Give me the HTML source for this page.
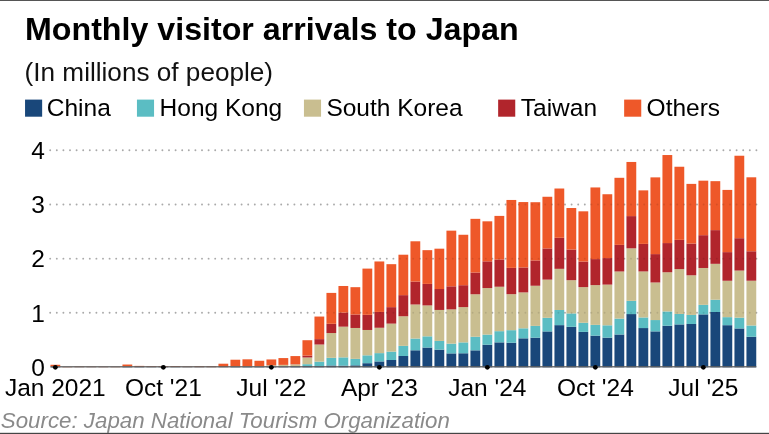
<!DOCTYPE html>
<html lang="en">
<head>
<meta charset="utf-8">
<title>Monthly visitor arrivals to Japan</title>
<style>
html,body{margin:0;padding:0;background:#fff;}
body{width:769px;height:434px;overflow:hidden;}
svg{display:block;font-family:"Liberation Sans",Arial,Helvetica,sans-serif;}
.ttl{font-size:32.2px;font-weight:bold;fill:#000;}
.sub{font-size:26.15px;fill:#111;}
.ax{font-size:24.5px;fill:#000;}
.src{font-size:22.3px;font-style:italic;fill:#8a8a8a;}
</style>
</head>
<body>
<svg width="769" height="434" viewBox="0 0 769 434">
<rect x="0" y="0" width="769" height="434" fill="#fff"/>
<rect x="0" y="0" width="769" height="1" fill="#555"/>
<rect x="0" y="432.8" width="769" height="1.2" fill="#454545"/>
<text x="25.0" y="40.4" class="ttl">Monthly visitor arrivals to Japan</text>
<text x="24.6" y="81.3" class="sub">(In millions of people)</text>
<g>
<rect x="25.05" y="99.6" width="17.1" height="17.1" fill="#19477a"/>
<text x="46.8" y="116" class="ax">China</text>
<rect x="136.95" y="99.6" width="17.1" height="17.1" fill="#5bbdc3"/>
<text x="159.6" y="116" class="ax">Hong Kong</text>
<rect x="303.95" y="99.6" width="17.1" height="17.1" fill="#c9be90"/>
<text x="326.4" y="116" class="ax">South Korea</text>
<rect x="498.15" y="99.6" width="17.1" height="17.1" fill="#b1252c"/>
<text x="520.8" y="116" class="ax">Taiwan</text>
<rect x="624.15" y="99.6" width="17.1" height="17.1" fill="#ee5829"/>
<text x="646.6" y="116" class="ax">Others</text>
</g>
<g>
<line x1="50.2" x2="757" y1="312.82" y2="312.82" stroke="#000" stroke-opacity="0.26" stroke-width="1.9" stroke-dasharray="0.01 6.59" stroke-linecap="round"/>
<line x1="50.2" x2="757" y1="258.64" y2="258.64" stroke="#000" stroke-opacity="0.26" stroke-width="1.9" stroke-dasharray="0.01 6.59" stroke-linecap="round"/>
<line x1="50.2" x2="757" y1="204.46" y2="204.46" stroke="#000" stroke-opacity="0.26" stroke-width="1.9" stroke-dasharray="0.01 6.59" stroke-linecap="round"/>
<line x1="50.2" x2="757" y1="150.28" y2="150.28" stroke="#000" stroke-opacity="0.26" stroke-width="1.9" stroke-dasharray="0.01 6.59" stroke-linecap="round"/>
</g>
<g>
<text x="45" y="375.80" text-anchor="end" class="ax">0</text>
<text x="45" y="321.62" text-anchor="end" class="ax">1</text>
<text x="45" y="267.44" text-anchor="end" class="ax">2</text>
<text x="45" y="213.26" text-anchor="end" class="ax">3</text>
<text x="45" y="159.08" text-anchor="end" class="ax">4</text>
</g>
<g>
<rect x="50.45" y="366.75" width="9.8" height="0.55" fill="#19477a"/>
<rect x="50.45" y="366.74" width="9.8" height="0.01" fill="#5bbdc3"/>
<rect x="50.45" y="366.60" width="9.8" height="0.14" fill="#c9be90"/>
<rect x="50.45" y="366.55" width="9.8" height="0.06" fill="#b1252c"/>
<rect x="50.45" y="364.77" width="9.8" height="1.77" fill="#ee5829"/>
<rect x="62.45" y="367.23" width="9.8" height="0.07" fill="#19477a"/>
<rect x="62.45" y="367.18" width="9.8" height="0.05" fill="#c9be90"/>
<rect x="62.45" y="367.17" width="9.8" height="0.01" fill="#b1252c"/>
<rect x="62.45" y="366.90" width="9.8" height="0.27" fill="#ee5829"/>
<rect x="74.45" y="367.19" width="9.8" height="0.11" fill="#19477a"/>
<rect x="74.45" y="367.10" width="9.8" height="0.09" fill="#c9be90"/>
<rect x="74.45" y="367.08" width="9.8" height="0.02" fill="#b1252c"/>
<rect x="74.45" y="366.63" width="9.8" height="0.44" fill="#ee5829"/>
<rect x="86.45" y="367.19" width="9.8" height="0.11" fill="#19477a"/>
<rect x="86.45" y="367.10" width="9.8" height="0.09" fill="#c9be90"/>
<rect x="86.45" y="367.08" width="9.8" height="0.02" fill="#b1252c"/>
<rect x="86.45" y="366.71" width="9.8" height="0.37" fill="#ee5829"/>
<rect x="98.45" y="367.20" width="9.8" height="0.10" fill="#19477a"/>
<rect x="98.45" y="367.13" width="9.8" height="0.08" fill="#c9be90"/>
<rect x="98.45" y="367.12" width="9.8" height="0.01" fill="#b1252c"/>
<rect x="98.45" y="366.76" width="9.8" height="0.36" fill="#ee5829"/>
<rect x="110.45" y="367.20" width="9.8" height="0.10" fill="#19477a"/>
<rect x="110.45" y="367.13" width="9.8" height="0.07" fill="#c9be90"/>
<rect x="110.45" y="367.12" width="9.8" height="0.01" fill="#b1252c"/>
<rect x="110.45" y="366.80" width="9.8" height="0.32" fill="#ee5829"/>
<rect x="122.45" y="366.83" width="9.8" height="0.47" fill="#19477a"/>
<rect x="122.45" y="366.81" width="9.8" height="0.02" fill="#5bbdc3"/>
<rect x="122.45" y="366.65" width="9.8" height="0.16" fill="#c9be90"/>
<rect x="122.45" y="366.59" width="9.8" height="0.05" fill="#b1252c"/>
<rect x="122.45" y="364.53" width="9.8" height="2.07" fill="#ee5829"/>
<rect x="134.45" y="367.04" width="9.8" height="0.26" fill="#19477a"/>
<rect x="134.45" y="367.03" width="9.8" height="0.01" fill="#5bbdc3"/>
<rect x="134.45" y="366.89" width="9.8" height="0.14" fill="#c9be90"/>
<rect x="134.45" y="366.86" width="9.8" height="0.03" fill="#b1252c"/>
<rect x="134.45" y="365.89" width="9.8" height="0.97" fill="#ee5829"/>
<rect x="146.45" y="367.10" width="9.8" height="0.20" fill="#19477a"/>
<rect x="146.45" y="367.09" width="9.8" height="0.01" fill="#5bbdc3"/>
<rect x="146.45" y="367.00" width="9.8" height="0.09" fill="#c9be90"/>
<rect x="146.45" y="366.99" width="9.8" height="0.02" fill="#b1252c"/>
<rect x="146.45" y="366.34" width="9.8" height="0.65" fill="#ee5829"/>
<rect x="158.45" y="367.06" width="9.8" height="0.24" fill="#19477a"/>
<rect x="158.45" y="367.06" width="9.8" height="0.01" fill="#5bbdc3"/>
<rect x="158.45" y="366.95" width="9.8" height="0.10" fill="#c9be90"/>
<rect x="158.45" y="366.93" width="9.8" height="0.02" fill="#b1252c"/>
<rect x="158.45" y="366.10" width="9.8" height="0.83" fill="#ee5829"/>
<rect x="170.45" y="367.11" width="9.8" height="0.19" fill="#19477a"/>
<rect x="170.45" y="367.10" width="9.8" height="0.01" fill="#5bbdc3"/>
<rect x="170.45" y="367.00" width="9.8" height="0.11" fill="#c9be90"/>
<rect x="170.45" y="366.97" width="9.8" height="0.02" fill="#b1252c"/>
<rect x="170.45" y="366.18" width="9.8" height="0.80" fill="#ee5829"/>
<rect x="182.45" y="367.15" width="9.8" height="0.15" fill="#19477a"/>
<rect x="182.45" y="367.14" width="9.8" height="0.01" fill="#5bbdc3"/>
<rect x="182.45" y="367.06" width="9.8" height="0.08" fill="#c9be90"/>
<rect x="182.45" y="367.04" width="9.8" height="0.02" fill="#b1252c"/>
<rect x="182.45" y="366.64" width="9.8" height="0.40" fill="#ee5829"/>
<rect x="194.45" y="367.14" width="9.8" height="0.16" fill="#19477a"/>
<rect x="194.45" y="367.14" width="9.8" height="0.01" fill="#5bbdc3"/>
<rect x="194.45" y="367.07" width="9.8" height="0.07" fill="#c9be90"/>
<rect x="194.45" y="367.04" width="9.8" height="0.02" fill="#b1252c"/>
<rect x="194.45" y="366.34" width="9.8" height="0.71" fill="#ee5829"/>
<rect x="206.45" y="367.18" width="9.8" height="0.12" fill="#19477a"/>
<rect x="206.45" y="367.18" width="9.8" height="0.01" fill="#5bbdc3"/>
<rect x="206.45" y="367.11" width="9.8" height="0.07" fill="#c9be90"/>
<rect x="206.45" y="367.09" width="9.8" height="0.02" fill="#b1252c"/>
<rect x="206.45" y="366.39" width="9.8" height="0.70" fill="#ee5829"/>
<rect x="218.45" y="367.11" width="9.8" height="0.19" fill="#19477a"/>
<rect x="218.45" y="367.10" width="9.8" height="0.01" fill="#5bbdc3"/>
<rect x="218.45" y="366.96" width="9.8" height="0.14" fill="#c9be90"/>
<rect x="218.45" y="366.93" width="9.8" height="0.03" fill="#b1252c"/>
<rect x="218.45" y="363.71" width="9.8" height="3.22" fill="#ee5829"/>
<rect x="230.45" y="366.76" width="9.8" height="0.54" fill="#19477a"/>
<rect x="230.45" y="366.75" width="9.8" height="0.02" fill="#5bbdc3"/>
<rect x="230.45" y="366.60" width="9.8" height="0.14" fill="#c9be90"/>
<rect x="230.45" y="366.58" width="9.8" height="0.03" fill="#b1252c"/>
<rect x="230.45" y="359.72" width="9.8" height="6.86" fill="#ee5829"/>
<rect x="242.45" y="366.93" width="9.8" height="0.37" fill="#19477a"/>
<rect x="242.45" y="366.91" width="9.8" height="0.02" fill="#5bbdc3"/>
<rect x="242.45" y="366.71" width="9.8" height="0.20" fill="#c9be90"/>
<rect x="242.45" y="366.68" width="9.8" height="0.04" fill="#b1252c"/>
<rect x="242.45" y="359.32" width="9.8" height="7.36" fill="#ee5829"/>
<rect x="254.45" y="366.88" width="9.8" height="0.42" fill="#19477a"/>
<rect x="254.45" y="366.85" width="9.8" height="0.02" fill="#5bbdc3"/>
<rect x="254.45" y="366.53" width="9.8" height="0.32" fill="#c9be90"/>
<rect x="254.45" y="366.49" width="9.8" height="0.04" fill="#b1252c"/>
<rect x="254.45" y="360.76" width="9.8" height="5.73" fill="#ee5829"/>
<rect x="266.45" y="366.50" width="9.8" height="0.80" fill="#19477a"/>
<rect x="266.45" y="366.44" width="9.8" height="0.05" fill="#5bbdc3"/>
<rect x="266.45" y="365.33" width="9.8" height="1.11" fill="#c9be90"/>
<rect x="266.45" y="365.25" width="9.8" height="0.08" fill="#b1252c"/>
<rect x="266.45" y="359.45" width="9.8" height="5.80" fill="#ee5829"/>
<rect x="278.45" y="366.63" width="9.8" height="0.67" fill="#19477a"/>
<rect x="278.45" y="366.53" width="9.8" height="0.10" fill="#5bbdc3"/>
<rect x="278.45" y="364.98" width="9.8" height="1.55" fill="#c9be90"/>
<rect x="278.45" y="364.86" width="9.8" height="0.12" fill="#b1252c"/>
<rect x="278.45" y="358.07" width="9.8" height="6.78" fill="#ee5829"/>
<rect x="290.45" y="366.34" width="9.8" height="0.96" fill="#19477a"/>
<rect x="290.45" y="366.19" width="9.8" height="0.15" fill="#5bbdc3"/>
<rect x="290.45" y="364.42" width="9.8" height="1.78" fill="#c9be90"/>
<rect x="290.45" y="364.25" width="9.8" height="0.16" fill="#b1252c"/>
<rect x="290.45" y="356.08" width="9.8" height="8.17" fill="#ee5829"/>
<rect x="302.45" y="366.13" width="9.8" height="1.17" fill="#19477a"/>
<rect x="302.45" y="364.17" width="9.8" height="1.97" fill="#5bbdc3"/>
<rect x="302.45" y="357.49" width="9.8" height="6.67" fill="#c9be90"/>
<rect x="302.45" y="355.59" width="9.8" height="1.90" fill="#b1252c"/>
<rect x="302.45" y="340.22" width="9.8" height="15.37" fill="#ee5829"/>
<rect x="314.45" y="366.16" width="9.8" height="1.14" fill="#19477a"/>
<rect x="314.45" y="361.65" width="9.8" height="4.51" fill="#5bbdc3"/>
<rect x="314.45" y="344.53" width="9.8" height="17.13" fill="#c9be90"/>
<rect x="314.45" y="339.12" width="9.8" height="5.40" fill="#b1252c"/>
<rect x="314.45" y="316.55" width="9.8" height="22.57" fill="#ee5829"/>
<rect x="326.45" y="365.48" width="9.8" height="1.82" fill="#19477a"/>
<rect x="326.45" y="357.81" width="9.8" height="7.67" fill="#5bbdc3"/>
<rect x="326.45" y="333.04" width="9.8" height="24.77" fill="#c9be90"/>
<rect x="326.45" y="323.80" width="9.8" height="9.24" fill="#b1252c"/>
<rect x="326.45" y="292.90" width="9.8" height="30.90" fill="#ee5829"/>
<rect x="338.45" y="365.61" width="9.8" height="1.69" fill="#19477a"/>
<rect x="338.45" y="357.36" width="9.8" height="8.25" fill="#5bbdc3"/>
<rect x="338.45" y="326.67" width="9.8" height="30.69" fill="#c9be90"/>
<rect x="338.45" y="312.59" width="9.8" height="14.08" fill="#b1252c"/>
<rect x="338.45" y="285.99" width="9.8" height="26.60" fill="#ee5829"/>
<rect x="350.45" y="365.33" width="9.8" height="1.97" fill="#19477a"/>
<rect x="350.45" y="358.85" width="9.8" height="6.48" fill="#5bbdc3"/>
<rect x="350.45" y="327.98" width="9.8" height="30.87" fill="#c9be90"/>
<rect x="350.45" y="314.48" width="9.8" height="13.49" fill="#b1252c"/>
<rect x="350.45" y="287.18" width="9.8" height="27.30" fill="#ee5829"/>
<rect x="362.45" y="363.19" width="9.8" height="4.11" fill="#19477a"/>
<rect x="362.45" y="355.32" width="9.8" height="7.87" fill="#5bbdc3"/>
<rect x="362.45" y="329.97" width="9.8" height="25.35" fill="#c9be90"/>
<rect x="362.45" y="314.83" width="9.8" height="15.14" fill="#b1252c"/>
<rect x="362.45" y="268.60" width="9.8" height="46.23" fill="#ee5829"/>
<rect x="374.45" y="361.42" width="9.8" height="5.88" fill="#19477a"/>
<rect x="374.45" y="353.12" width="9.8" height="8.30" fill="#5bbdc3"/>
<rect x="374.45" y="327.76" width="9.8" height="25.36" fill="#c9be90"/>
<rect x="374.45" y="311.93" width="9.8" height="15.83" fill="#b1252c"/>
<rect x="374.45" y="261.46" width="9.8" height="50.47" fill="#ee5829"/>
<rect x="386.45" y="360.00" width="9.8" height="7.30" fill="#19477a"/>
<rect x="386.45" y="351.62" width="9.8" height="8.38" fill="#5bbdc3"/>
<rect x="386.45" y="323.62" width="9.8" height="28.00" fill="#c9be90"/>
<rect x="386.45" y="307.15" width="9.8" height="16.47" fill="#b1252c"/>
<rect x="386.45" y="264.17" width="9.8" height="42.97" fill="#ee5829"/>
<rect x="398.45" y="355.98" width="9.8" height="11.32" fill="#19477a"/>
<rect x="398.45" y="345.86" width="9.8" height="10.12" fill="#5bbdc3"/>
<rect x="398.45" y="316.26" width="9.8" height="29.60" fill="#c9be90"/>
<rect x="398.45" y="295.14" width="9.8" height="21.12" fill="#b1252c"/>
<rect x="398.45" y="254.71" width="9.8" height="40.43" fill="#ee5829"/>
<rect x="410.45" y="350.29" width="9.8" height="17.01" fill="#19477a"/>
<rect x="410.45" y="338.54" width="9.8" height="11.75" fill="#5bbdc3"/>
<rect x="410.45" y="304.50" width="9.8" height="34.04" fill="#c9be90"/>
<rect x="410.45" y="281.57" width="9.8" height="22.93" fill="#b1252c"/>
<rect x="410.45" y="241.29" width="9.8" height="40.28" fill="#ee5829"/>
<rect x="422.45" y="347.53" width="9.8" height="19.77" fill="#19477a"/>
<rect x="422.45" y="336.33" width="9.8" height="11.20" fill="#5bbdc3"/>
<rect x="422.45" y="305.43" width="9.8" height="30.90" fill="#c9be90"/>
<rect x="422.45" y="283.91" width="9.8" height="21.52" fill="#b1252c"/>
<rect x="422.45" y="250.16" width="9.8" height="33.74" fill="#ee5829"/>
<rect x="434.45" y="349.62" width="9.8" height="17.68" fill="#19477a"/>
<rect x="434.45" y="340.92" width="9.8" height="8.70" fill="#5bbdc3"/>
<rect x="434.45" y="309.94" width="9.8" height="30.97" fill="#c9be90"/>
<rect x="434.45" y="289.02" width="9.8" height="20.92" fill="#b1252c"/>
<rect x="434.45" y="248.68" width="9.8" height="40.34" fill="#ee5829"/>
<rect x="446.45" y="353.38" width="9.8" height="13.92" fill="#19477a"/>
<rect x="446.45" y="343.65" width="9.8" height="9.74" fill="#5bbdc3"/>
<rect x="446.45" y="309.38" width="9.8" height="34.27" fill="#c9be90"/>
<rect x="446.45" y="286.31" width="9.8" height="23.07" fill="#b1252c"/>
<rect x="446.45" y="230.65" width="9.8" height="55.66" fill="#ee5829"/>
<rect x="458.45" y="353.27" width="9.8" height="14.03" fill="#19477a"/>
<rect x="458.45" y="342.39" width="9.8" height="10.88" fill="#5bbdc3"/>
<rect x="458.45" y="307.10" width="9.8" height="35.29" fill="#c9be90"/>
<rect x="458.45" y="285.19" width="9.8" height="21.91" fill="#b1252c"/>
<rect x="458.45" y="234.76" width="9.8" height="50.43" fill="#ee5829"/>
<rect x="470.45" y="350.34" width="9.8" height="16.96" fill="#19477a"/>
<rect x="470.45" y="336.76" width="9.8" height="13.57" fill="#5bbdc3"/>
<rect x="470.45" y="294.26" width="9.8" height="42.50" fill="#c9be90"/>
<rect x="470.45" y="272.54" width="9.8" height="21.72" fill="#b1252c"/>
<rect x="470.45" y="218.84" width="9.8" height="53.70" fill="#ee5829"/>
<rect x="482.45" y="344.72" width="9.8" height="22.58" fill="#19477a"/>
<rect x="482.45" y="334.60" width="9.8" height="10.12" fill="#5bbdc3"/>
<rect x="482.45" y="288.07" width="9.8" height="46.54" fill="#c9be90"/>
<rect x="482.45" y="261.33" width="9.8" height="26.73" fill="#b1252c"/>
<rect x="482.45" y="221.32" width="9.8" height="40.02" fill="#ee5829"/>
<rect x="494.45" y="342.35" width="9.8" height="24.95" fill="#19477a"/>
<rect x="494.45" y="331.17" width="9.8" height="11.18" fill="#5bbdc3"/>
<rect x="494.45" y="286.73" width="9.8" height="44.44" fill="#c9be90"/>
<rect x="494.45" y="259.46" width="9.8" height="27.27" fill="#b1252c"/>
<rect x="494.45" y="215.90" width="9.8" height="43.56" fill="#ee5829"/>
<rect x="506.45" y="342.73" width="9.8" height="24.57" fill="#19477a"/>
<rect x="506.45" y="330.17" width="9.8" height="12.57" fill="#5bbdc3"/>
<rect x="506.45" y="294.16" width="9.8" height="36.01" fill="#c9be90"/>
<rect x="506.45" y="267.86" width="9.8" height="26.30" fill="#b1252c"/>
<rect x="506.45" y="199.96" width="9.8" height="67.90" fill="#ee5829"/>
<rect x="518.45" y="338.33" width="9.8" height="28.97" fill="#19477a"/>
<rect x="518.45" y="328.31" width="9.8" height="10.02" fill="#5bbdc3"/>
<rect x="518.45" y="292.40" width="9.8" height="35.90" fill="#c9be90"/>
<rect x="518.45" y="267.44" width="9.8" height="24.96" fill="#b1252c"/>
<rect x="518.45" y="202.06" width="9.8" height="65.38" fill="#ee5829"/>
<rect x="530.45" y="337.68" width="9.8" height="29.62" fill="#19477a"/>
<rect x="530.45" y="325.87" width="9.8" height="11.81" fill="#5bbdc3"/>
<rect x="530.45" y="285.76" width="9.8" height="40.12" fill="#c9be90"/>
<rect x="530.45" y="260.45" width="9.8" height="25.30" fill="#b1252c"/>
<rect x="530.45" y="202.21" width="9.8" height="58.24" fill="#ee5829"/>
<rect x="542.45" y="331.41" width="9.8" height="35.89" fill="#19477a"/>
<rect x="542.45" y="317.81" width="9.8" height="13.61" fill="#5bbdc3"/>
<rect x="542.45" y="279.62" width="9.8" height="38.19" fill="#c9be90"/>
<rect x="542.45" y="248.42" width="9.8" height="31.20" fill="#b1252c"/>
<rect x="542.45" y="196.76" width="9.8" height="51.66" fill="#ee5829"/>
<rect x="554.45" y="325.14" width="9.8" height="42.16" fill="#19477a"/>
<rect x="554.45" y="309.98" width="9.8" height="15.16" fill="#5bbdc3"/>
<rect x="554.45" y="268.84" width="9.8" height="41.14" fill="#c9be90"/>
<rect x="554.45" y="237.79" width="9.8" height="31.04" fill="#b1252c"/>
<rect x="554.45" y="188.51" width="9.8" height="49.28" fill="#ee5829"/>
<rect x="566.45" y="326.80" width="9.8" height="40.50" fill="#19477a"/>
<rect x="566.45" y="313.41" width="9.8" height="13.39" fill="#5bbdc3"/>
<rect x="566.45" y="280.18" width="9.8" height="33.24" fill="#c9be90"/>
<rect x="566.45" y="249.53" width="9.8" height="30.64" fill="#b1252c"/>
<rect x="566.45" y="208.02" width="9.8" height="41.52" fill="#ee5829"/>
<rect x="578.45" y="331.88" width="9.8" height="35.42" fill="#19477a"/>
<rect x="578.45" y="322.76" width="9.8" height="9.12" fill="#5bbdc3"/>
<rect x="578.45" y="287.10" width="9.8" height="35.66" fill="#c9be90"/>
<rect x="578.45" y="261.55" width="9.8" height="25.55" fill="#b1252c"/>
<rect x="578.45" y="211.32" width="9.8" height="50.22" fill="#ee5829"/>
<rect x="590.45" y="335.65" width="9.8" height="31.65" fill="#19477a"/>
<rect x="590.45" y="324.86" width="9.8" height="10.79" fill="#5bbdc3"/>
<rect x="590.45" y="285.11" width="9.8" height="39.75" fill="#c9be90"/>
<rect x="590.45" y="259.10" width="9.8" height="26.00" fill="#b1252c"/>
<rect x="590.45" y="187.45" width="9.8" height="71.65" fill="#ee5829"/>
<rect x="602.45" y="337.64" width="9.8" height="29.66" fill="#19477a"/>
<rect x="602.45" y="325.30" width="9.8" height="12.33" fill="#5bbdc3"/>
<rect x="602.45" y="284.61" width="9.8" height="40.70" fill="#c9be90"/>
<rect x="602.45" y="258.09" width="9.8" height="26.52" fill="#b1252c"/>
<rect x="602.45" y="194.24" width="9.8" height="63.85" fill="#ee5829"/>
<rect x="614.45" y="334.49" width="9.8" height="32.81" fill="#19477a"/>
<rect x="614.45" y="318.59" width="9.8" height="15.90" fill="#5bbdc3"/>
<rect x="614.45" y="271.49" width="9.8" height="47.10" fill="#c9be90"/>
<rect x="614.45" y="244.86" width="9.8" height="26.63" fill="#b1252c"/>
<rect x="614.45" y="177.80" width="9.8" height="67.07" fill="#ee5829"/>
<rect x="626.45" y="314.07" width="9.8" height="53.23" fill="#19477a"/>
<rect x="626.45" y="300.84" width="9.8" height="13.23" fill="#5bbdc3"/>
<rect x="626.45" y="248.32" width="9.8" height="52.51" fill="#c9be90"/>
<rect x="626.45" y="216.10" width="9.8" height="32.22" fill="#b1252c"/>
<rect x="626.45" y="161.96" width="9.8" height="54.14" fill="#ee5829"/>
<rect x="638.45" y="328.06" width="9.8" height="39.24" fill="#19477a"/>
<rect x="638.45" y="317.44" width="9.8" height="10.62" fill="#5bbdc3"/>
<rect x="638.45" y="271.43" width="9.8" height="46.01" fill="#c9be90"/>
<rect x="638.45" y="243.89" width="9.8" height="27.55" fill="#b1252c"/>
<rect x="638.45" y="190.37" width="9.8" height="53.52" fill="#ee5829"/>
<rect x="650.45" y="331.37" width="9.8" height="35.93" fill="#19477a"/>
<rect x="650.45" y="320.05" width="9.8" height="11.32" fill="#5bbdc3"/>
<rect x="650.45" y="282.49" width="9.8" height="37.56" fill="#c9be90"/>
<rect x="650.45" y="254.10" width="9.8" height="28.39" fill="#b1252c"/>
<rect x="650.45" y="177.37" width="9.8" height="76.73" fill="#ee5829"/>
<rect x="662.45" y="325.76" width="9.8" height="41.54" fill="#19477a"/>
<rect x="662.45" y="311.44" width="9.8" height="14.31" fill="#5bbdc3"/>
<rect x="662.45" y="272.26" width="9.8" height="39.18" fill="#c9be90"/>
<rect x="662.45" y="243.07" width="9.8" height="29.19" fill="#b1252c"/>
<rect x="662.45" y="155.03" width="9.8" height="88.03" fill="#ee5829"/>
<rect x="674.45" y="324.41" width="9.8" height="42.89" fill="#19477a"/>
<rect x="674.45" y="313.92" width="9.8" height="10.49" fill="#5bbdc3"/>
<rect x="674.45" y="269.08" width="9.8" height="44.84" fill="#c9be90"/>
<rect x="674.45" y="239.85" width="9.8" height="29.24" fill="#b1252c"/>
<rect x="674.45" y="166.74" width="9.8" height="73.11" fill="#ee5829"/>
<rect x="686.45" y="323.97" width="9.8" height="43.33" fill="#19477a"/>
<rect x="686.45" y="314.92" width="9.8" height="9.06" fill="#5bbdc3"/>
<rect x="686.45" y="275.29" width="9.8" height="39.63" fill="#c9be90"/>
<rect x="686.45" y="243.52" width="9.8" height="31.77" fill="#b1252c"/>
<rect x="686.45" y="183.89" width="9.8" height="59.64" fill="#ee5829"/>
<rect x="698.45" y="314.38" width="9.8" height="52.92" fill="#19477a"/>
<rect x="698.45" y="304.83" width="9.8" height="9.56" fill="#5bbdc3"/>
<rect x="698.45" y="267.98" width="9.8" height="36.85" fill="#c9be90"/>
<rect x="698.45" y="235.17" width="9.8" height="32.81" fill="#b1252c"/>
<rect x="698.45" y="180.67" width="9.8" height="54.50" fill="#ee5829"/>
<rect x="710.45" y="311.99" width="9.8" height="55.31" fill="#19477a"/>
<rect x="710.45" y="299.71" width="9.8" height="12.28" fill="#5bbdc3"/>
<rect x="710.45" y="263.83" width="9.8" height="35.89" fill="#c9be90"/>
<rect x="710.45" y="230.12" width="9.8" height="33.70" fill="#b1252c"/>
<rect x="710.45" y="181.16" width="9.8" height="48.96" fill="#ee5829"/>
<rect x="722.45" y="325.19" width="9.8" height="42.11" fill="#19477a"/>
<rect x="722.45" y="317.15" width="9.8" height="8.04" fill="#5bbdc3"/>
<rect x="722.45" y="280.75" width="9.8" height="36.41" fill="#c9be90"/>
<rect x="722.45" y="252.13" width="9.8" height="28.62" fill="#b1252c"/>
<rect x="722.45" y="189.91" width="9.8" height="62.22" fill="#ee5829"/>
<rect x="734.45" y="328.44" width="9.8" height="38.86" fill="#19477a"/>
<rect x="734.45" y="317.64" width="9.8" height="10.79" fill="#5bbdc3"/>
<rect x="734.45" y="270.55" width="9.8" height="47.09" fill="#c9be90"/>
<rect x="734.45" y="238.20" width="9.8" height="32.36" fill="#b1252c"/>
<rect x="734.45" y="155.73" width="9.8" height="82.47" fill="#ee5829"/>
<rect x="746.45" y="336.75" width="9.8" height="30.55" fill="#19477a"/>
<rect x="746.45" y="325.48" width="9.8" height="11.27" fill="#5bbdc3"/>
<rect x="746.45" y="280.71" width="9.8" height="44.77" fill="#c9be90"/>
<rect x="746.45" y="251.26" width="9.8" height="29.45" fill="#b1252c"/>
<rect x="746.45" y="177.30" width="9.8" height="73.95" fill="#ee5829"/>
</g>
<g>
<line x1="50.2" x2="757" y1="312.82" y2="312.82" stroke="#000" stroke-opacity="0.10" stroke-width="1.9" stroke-dasharray="0.01 6.59" stroke-linecap="round"/>
<line x1="50.2" x2="757" y1="258.64" y2="258.64" stroke="#000" stroke-opacity="0.10" stroke-width="1.9" stroke-dasharray="0.01 6.59" stroke-linecap="round"/>
<line x1="50.2" x2="757" y1="204.46" y2="204.46" stroke="#000" stroke-opacity="0.10" stroke-width="1.9" stroke-dasharray="0.01 6.59" stroke-linecap="round"/>
<line x1="50.2" x2="757" y1="150.28" y2="150.28" stroke="#000" stroke-opacity="0.10" stroke-width="1.9" stroke-dasharray="0.01 6.59" stroke-linecap="round"/>
</g>
<rect x="50.6" y="366.15" width="705.7" height="1.3" fill="#5e5e5e"/>
<g>
<circle cx="55.35" cy="367.3" r="2.4" fill="#000"/>
<circle cx="163.35" cy="367.3" r="2.4" fill="#000"/>
<circle cx="271.35" cy="367.3" r="2.4" fill="#000"/>
<circle cx="379.35" cy="367.3" r="2.4" fill="#000"/>
<circle cx="487.35" cy="367.3" r="2.4" fill="#000"/>
<circle cx="595.35" cy="367.3" r="2.4" fill="#000"/>
<circle cx="703.35" cy="367.3" r="2.4" fill="#000"/>
</g>
<g>
<text x="55.35" y="395.8" text-anchor="middle" class="ax">Jan 2021</text>
<text x="163.35" y="395.8" text-anchor="middle" class="ax">Oct '21</text>
<text x="271.35" y="395.8" text-anchor="middle" class="ax">Jul '22</text>
<text x="379.35" y="395.8" text-anchor="middle" class="ax">Apr '23</text>
<text x="487.35" y="395.8" text-anchor="middle" class="ax">Jan '24</text>
<text x="595.35" y="395.8" text-anchor="middle" class="ax">Oct '24</text>
<text x="703.35" y="395.8" text-anchor="middle" class="ax">Jul '25</text>
</g>
<text x="0.8" y="427.6" class="src">Source: Japan National Tourism Organization</text>
</svg>
</body>
</html>
